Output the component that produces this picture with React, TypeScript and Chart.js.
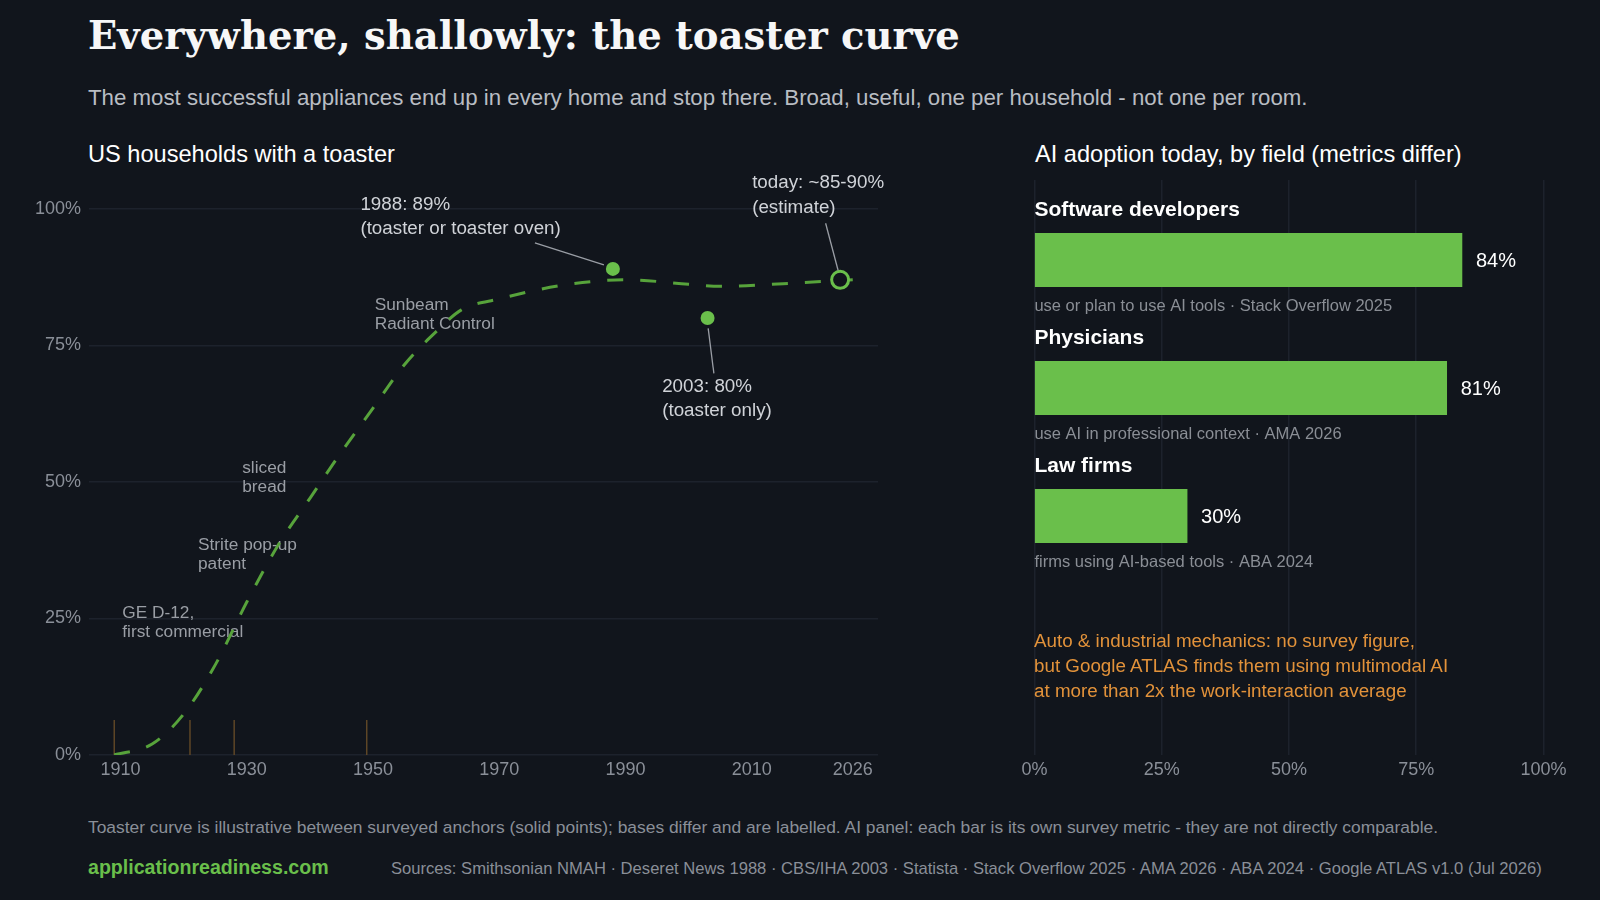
import React, { useEffect, useRef } from "react";
import { Chart, registerables } from "chart.js";

Chart.register(...registerables);

// ---------- data ----------
const curveYears = [1909, 1915, 1920, 1925, 1930, 1935, 1940, 1945, 1950, 1955, 1960, 1964, 1970, 1980, 1990, 2000, 2005, 2015, 2026];
const curveShare = [0, 2, 7.5, 16.5, 28, 38.5, 47, 55.5, 63.5, 71.5, 77.5, 81.5, 83.5, 86, 87, 86.2, 85.8, 86.3, 87];

const anchorYears = [1988, 2003];
const anchorShare = [89, 80];
const todayYear = [2024];
const todayShare = [87];

const xTickYears = [1910, 1930, 1950, 1970, 1990, 2010, 2026];
const yTickValues = [0, 25, 50, 75, 100];

const eventYears = [1909, 1921, 1928, 1949];
const eventLabels = [
  ["GE D-12,", "first commercial"],
  ["Strite pop-up", "patent"],
  ["sliced", "bread"],
  ["Sunbeam", "Radiant Control"],
];
const eventLabelAt = [26, 38.4, 52.5, 82.4];

const anchorNoteLines = [
  ["1988: 89%", "(toaster or toaster oven)"],
  ["2003: 80%", "(toaster only)"],
  ["today: ~85-90%", "(estimate)"],
];

const fieldNames = ["Software developers", "Physicians", "Law firms"];
const fieldShare = [84, 81, 30];
const fieldNotes = [
  "use or plan to use AI tools \u00b7 Stack Overflow 2025",
  "use AI in professional context \u00b7 AMA 2026",
  "firms using AI-based tools \u00b7 ABA 2024",
];
const barTickValues = [0, 25, 50, 75, 100];

// ---------- styles ----------
const BG = "#11151c";
const GRID = "#1d222c";
const GREEN = "#6abf4b";
const LINE_GREEN = "#57a33b";
const TICK = "#8a8f98";
const SANS = "'Liberation Sans', Arial, sans-serif";

// annotation placement (pixel offsets from each anchor mark)
const anchorNoteLayout = [
  { dx: -252.5, dy: -64, lead: [-78, -26, -9, -4] },
  { dx: -45.4, dy: 68.4, lead: [0.6, 10.4, 6.3, 55.4] },
  { dx: -88, dy: -96.6, lead: [-14.5, -56.6, -2, -9.3] },
];

const toasterNotes = {
  id: "toasterNotes",
  beforeDatasetsDraw(chart: any) {
    const { ctx, scales } = chart;
    const xs = scales.x;
    const ys = scales.y;
    ctx.save();
    const base = ys.getPixelForValue(0);
    eventYears.forEach((yr, i) => {
      const px = xs.getPixelForValue(yr);
      ctx.strokeStyle = "#5e4626";
      ctx.lineWidth = 1.5;
      ctx.beginPath();
      ctx.moveTo(px, base);
      ctx.lineTo(px, base - 35);
      ctx.stroke();
      ctx.fillStyle = "#9a9ea5";
      ctx.font = `17.3px ${SANS}`;
      ctx.textBaseline = "middle";
      ctx.textAlign = "left";
      const ly = ys.getPixelForValue(eventLabelAt[i]);
      eventLabels[i].forEach((t, k) => ctx.fillText(t, px + 8, ly + k * 19));
    });
    ctx.restore();
  },
  afterDatasetsDraw(chart: any) {
    const { ctx } = chart;
    const marks = [
      chart.getDatasetMeta(0).data[0],
      chart.getDatasetMeta(0).data[1],
      chart.getDatasetMeta(1).data[0],
    ];
    ctx.save();
    marks.forEach((m: any, i: number) => {
      const L = anchorNoteLayout[i];
      ctx.strokeStyle = "#9a9ea5";
      ctx.lineWidth = 1.3;
      ctx.beginPath();
      ctx.moveTo(m.x + L.lead[0], m.y + L.lead[1]);
      ctx.lineTo(m.x + L.lead[2], m.y + L.lead[3]);
      ctx.stroke();
      ctx.fillStyle = "#d0d3d8";
      ctx.font = `18.8px ${SANS}`;
      ctx.textBaseline = "middle";
      ctx.textAlign = "left";
      anchorNoteLines[i].forEach((t, k) => ctx.fillText(t, m.x + L.dx, m.y + L.dy + k * 24.3));
    });
    ctx.restore();
  },
};

const barNotes = {
  id: "barNotes",
  afterDatasetsDraw(chart: any) {
    const { ctx, chartArea } = chart;
    const meta = chart.getDatasetMeta(0);
    ctx.save();
    ctx.textAlign = "left";
    ctx.textBaseline = "alphabetic";
    meta.data.forEach((bar: any, i: number) => {
      ctx.fillStyle = "#ffffff";
      ctx.font = `bold 21px ${SANS}`;
      ctx.fillText(fieldNames[i], chartArea.left, bar.y - 44);
      ctx.font = `20px ${SANS}`;
      ctx.fillText(fieldShare[i] + "%", bar.x + 14, bar.y + 6.5);
      ctx.fillStyle = "#8a8e95";
      ctx.font = `16.5px ${SANS}`;
      ctx.fillText(fieldNotes[i], chartArea.left, bar.y + 50.7);
    });
    ctx.restore();
  },
};

function txt(style: React.CSSProperties): React.CSSProperties {
  return { position: "absolute", whiteSpace: "nowrap", margin: 0, ...style };
}

function noPad(s: any) {
  s.paddingTop = 0;
  s.paddingBottom = 0;
  s.paddingLeft = 0;
  s.paddingRight = 0;
}

export default function App() {
  const leftRef = useRef<HTMLCanvasElement>(null);
  const rightRef = useRef<HTMLCanvasElement>(null);

  useEffect(() => {
    Chart.defaults.font.family = SANS;
    const left = new Chart(leftRef.current as HTMLCanvasElement, {
      type: "line",
      data: {
        datasets: [
          {
            data: anchorYears.map((x, i) => ({ x, y: anchorShare[i] })),
            showLine: false,
            pointRadius: 7,
            pointBackgroundColor: GREEN,
            pointBorderWidth: 0,
          },
          {
            data: todayYear.map((x, i) => ({ x, y: todayShare[i] })),
            showLine: false,
            pointRadius: 8.5,
            pointBackgroundColor: BG,
            pointBorderColor: GREEN,
            pointBorderWidth: 3,
          },
          {
            data: curveYears.map((x, i) => ({ x, y: curveShare[i] })),
            showLine: true,
            borderColor: LINE_GREEN,
            borderWidth: 3,
            borderDash: [16, 17],
            pointRadius: 0,
            cubicInterpolationMode: "monotone",
            fill: false,
          },
        ],
      } as any,
      options: {
        responsive: false,
        animation: false,
        devicePixelRatio: 1,
        layout: { padding: { left: 0, right: 22, top: 10, bottom: 0 } },
        plugins: { legend: { display: false }, tooltip: { enabled: false } },
        scales: {
          x: {
            type: "linear",
            min: 1905,
            max: 2030,
            afterBuildTicks: (s: any) => {
              s.ticks = xTickYears.map((v) => ({ value: v }));
            },
            afterFit: (s: any) => {
              s.height = 35;
              noPad(s);
            },
            ticks: {
              color: TICK,
              font: { size: 18 },
              padding: 4,
              autoSkip: false,
              maxRotation: 0,
              callback: (v: any) => String(v),
            },
            grid: { display: false, drawTicks: false },
            border: { display: false },
          },
          y: {
            min: 0,
            max: 105,
            afterBuildTicks: (s: any) => {
              s.ticks = yTickValues.map((v) => ({ value: v }));
            },
            afterFit: (s: any) => {
              s.width = 89;
              noPad(s);
            },
            ticks: {
              color: TICK,
              font: { size: 18 },
              padding: 8,
              callback: (v: any) => v + "%",
            },
            grid: { color: GRID, lineWidth: 1.5, drawTicks: false },
            border: { display: false },
          },
        },
      } as any,
      plugins: [toasterNotes],
    });

    const right = new Chart(rightRef.current as HTMLCanvasElement, {
      type: "bar",
      data: {
        datasets: [
          {
            data: fieldShare.map((v, i) => ({ x: v, y: i })),
            backgroundColor: GREEN,
            borderWidth: 0,
            barThickness: 53.4,
          },
        ],
      } as any,
      options: {
        indexAxis: "y",
        responsive: false,
        animation: false,
        devicePixelRatio: 1,
        layout: { padding: { left: 34.4, right: 56.6, top: 10, bottom: 0 } },
        plugins: { legend: { display: false }, tooltip: { enabled: false } },
        scales: {
          x: {
            type: "linear",
            min: 0,
            max: 100,
            afterBuildTicks: (s: any) => {
              s.ticks = barTickValues.map((v) => ({ value: v }));
            },
            afterFit: (s: any) => {
              s.height = 35;
              noPad(s);
            },
            ticks: {
              color: TICK,
              font: { size: 18 },
              padding: 4,
              callback: (v: any) => v + "%",
            },
            grid: { color: GRID, lineWidth: 1.5, drawTicks: false },
            border: { display: false },
          },
          y: {
            type: "linear",
            reverse: true,
            offset: false,
            min: -0.625,
            max: 3.867,
            display: false,
            grid: { offset: false },
          },
        },
      } as any,
      plugins: [barNotes],
    });

    return () => {
      left.destroy();
      right.destroy();
    };
  }, []);

  return (
    <div
      style={{
        position: "fixed",
        left: 0,
        top: 0,
        width: 1600,
        height: 900,
        background: BG,
        overflow: "hidden",
        fontFamily: SANS,
      }}
    >
      <canvas ref={leftRef} width={900} height={620} style={{ position: "absolute", left: 0, top: 170, width: 900, height: 620 }} />
      <canvas ref={rightRef} width={600} height={620} style={{ position: "absolute", left: 1000, top: 170, width: 600, height: 620 }} />

      <div style={txt({ left: 88, top: 16.5, fontFamily: "'DejaVu Serif', Georgia, serif", fontWeight: 700, fontSize: 38.5, lineHeight: "38.5px", color: "#f7f7f7" })}>
        Everywhere, shallowly: the toaster curve
      </div>
      <div style={txt({ left: 88, top: 87, fontSize: 22.25, lineHeight: "22.25px", color: "#b9bdc3" })}>
        The most successful appliances end up in every home and stop there. Broad, useful, one per household - not one per room.
      </div>
      <div style={txt({ left: 88, top: 143, fontSize: 23.6, lineHeight: "23.6px", color: "#ffffff" })}>US households with a toaster</div>
      <div style={txt({ left: 1035, top: 143, fontSize: 23.6, lineHeight: "23.6px", color: "#ffffff" })}>
        AI adoption today, by field (metrics differ)
      </div>
      <div style={txt({ left: 1034, top: 627.5, fontSize: 18.8, lineHeight: "25px", color: "#e2923a" })}>
        Auto &amp; industrial mechanics: no survey figure,
        <br />
        but Google ATLAS finds them using multimodal AI
        <br />
        at more than 2x the work-interaction average
      </div>
      <div style={txt({ left: 88, top: 819, fontSize: 17.4, lineHeight: "17.4px", color: "#8a8f98" })}>
        Toaster curve is illustrative between surveyed anchors (solid points); bases differ and are labelled. AI panel: each bar is its own survey metric - they are not directly comparable.
      </div>
      <div style={txt({ left: 88, top: 857.7, fontSize: 19.6, lineHeight: "19.6px", fontWeight: 700, color: "#6abf4b" })}>
        applicationreadiness.com
      </div>
      <div style={txt({ left: 391, top: 860.5, fontSize: 16.6, lineHeight: "16.6px", color: "#8a8f98" })}>
        Sources: Smithsonian NMAH · Deseret News 1988 · CBS/IHA 2003 · Statista · Stack Overflow 2025 · AMA 2026 · ABA 2024 · Google ATLAS v1.0 (Jul 2026)
      </div>
    </div>
  );
}
